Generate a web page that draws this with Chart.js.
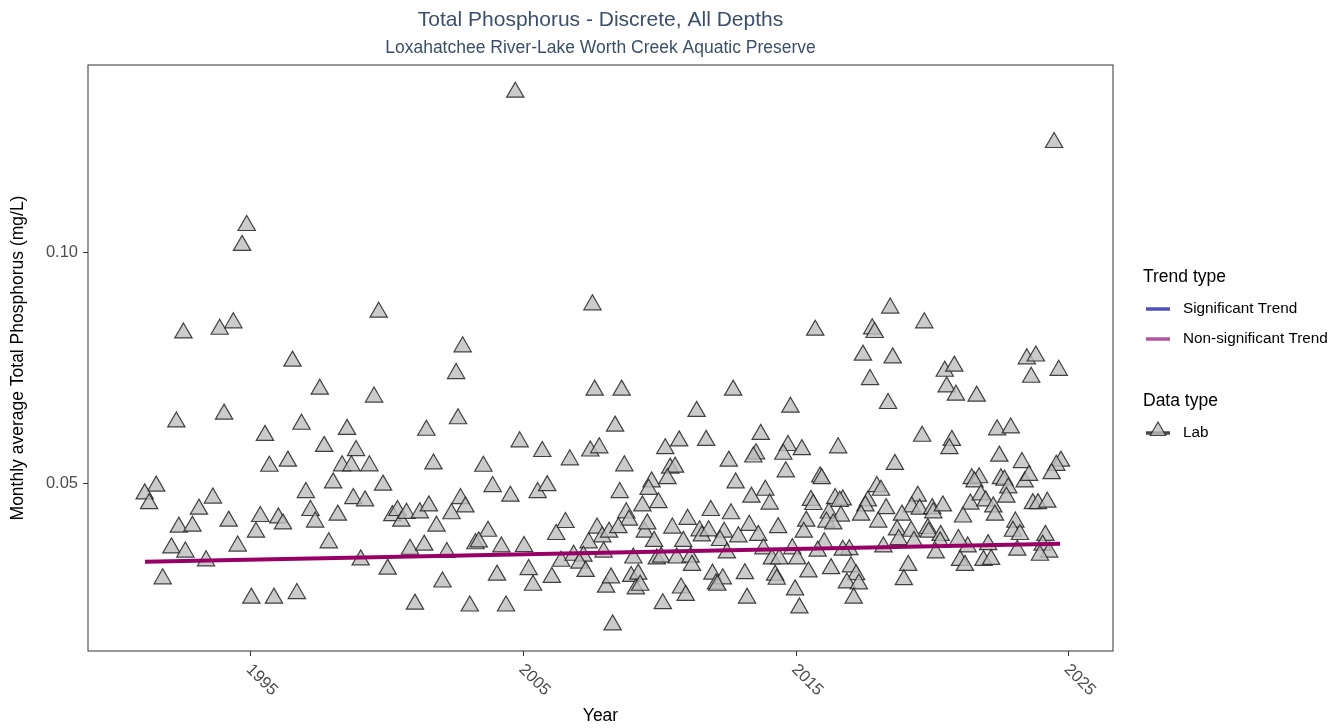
<!DOCTYPE html>
<html>
<head>
<meta charset="utf-8">
<title>Total Phosphorus - Discrete, All Depths</title>
<script src="https://cdn.jsdelivr.net/npm/chart.js@4.4.1/dist/chart.umd.min.js"></script>
<style>
  html, body { margin: 0; padding: 0; background: #ffffff; }
  canvas { display: block; }
</style>
</head>
<body>
<canvas id="tpChart" width="1343" height="728"></canvas>
<script>
// Monthly average total phosphorus (mg/L), lab samples, by decimal year
const sampleYear = [
  1999.69, 1992.53, 1993.86, 1994.36, 1996.53, 1997.53, 1999.52, 1992.27, 1994.02, 1996.86,
  1995.52, 1998.53, 2001.44, 1997.69, 1998.86, 1995.68, 1996.36, 1998.35, 1998.69, 1999.35,
  2001.70, 1991.53, 1991.11, 1991.27, 1993.61, 1997.02, 1998.02, 1999.85, 1993.10, 1992.36,
  1992.86, 1994.19, 1995.35, 1996.01, 1996.18, 1997.19, 1997.36, 1998.19, 1998.76, 1999.19,
  2000.19, 2000.38, 2000.52, 2000.71, 2001.20, 2001.53, 2001.81, 1995.19, 1992.09, 1992.60,
  1993.36, 1994.52, 1997.86, 1999.03, 2000.84, 2001.36, 1991.77, 2000.02, 1995.02, 1995.85,
  1996.69, 2001.02, 1994.85, 1994.68,
  2004.70, 2007.53, 2002.77, 2002.53, 2007.61, 2008.60, 2012.69, 2002.60, 2008.36, 2011.35,
  2004.86, 2005.69, 2006.70, 2007.45, 2007.78, 2010.20, 2010.71, 2011.70, 2013.70, 2013.53,
  2013.43, 2003.53, 2008.70, 2010.38, 2010.56, 2010.28, 2012.53, 2003.87, 2004.52, 2005.52,
  2005.87, 2008.53, 2009.70, 2009.59, 2012.78, 2013.87, 2002.69, 2002.87, 2002.36, 2009.36,
  2009.95, 2013.36, 2014.03, 2008.77, 2008.87, 2011.87, 2012.61, 2006.54, 2006.20, 2003.70,
  2003.24, 2003.36, 2004.19, 2005.02, 2007.70, 2007.89, 2008.14, 2008.48, 2007.39, 2009.45,
  2009.54, 2009.79, 2010.46, 2011.02, 2010.86, 2011.46, 2011.54, 2011.79, 2012.36, 2012.21,
  2012.88, 2013.28, 2013.61, 2014.34, 2002.19, 2006.38, 2006.84, 2007.20, 2007.05, 2007.28,
  2007.94, 2009.03, 2009.89, 2010.05, 2010.62, 2011.13, 2011.18, 2012.46, 2013.80, 2014.11,
  2002.03, 2004.03, 2005.19, 2005.35, 2006.04, 2008.03, 2008.21, 2008.95, 2009.21, 2009.12,
  2009.28, 2010.78, 2010.95, 2011.93, 2012.06, 2012.31, 2012.11, 2013.12, 2014.23, 2014.29,
  2003.03, 2004.36, 2008.27, 2010.11, 2013.20,
  2018.45, 2015.70, 2017.79, 2017.88, 2019.70, 2017.45, 2018.54, 2017.71, 2020.45, 2020.80,
  2020.52, 2020.86, 2021.62, 2023.46, 2023.79, 2023.62, 2024.63, 2014.79, 2018.37, 2022.37,
  2022.87, 2014.70, 2014.53, 2015.21, 2016.54, 2019.62, 2020.71, 2020.62, 2018.62, 2014.62,
  2022.45, 2023.28, 2024.71, 2024.54, 2024.37, 2015.88, 2015.94, 2015.54, 2015.63, 2016.43,
  2016.71, 2016.60, 2017.96, 2018.11, 2017.63, 2017.54, 2018.30, 2017.38, 2015.37, 2016.20,
  2016.64, 2016.11, 2016.36, 2015.28, 2018.01, 2019.46, 2019.24, 2019.53, 2019.99, 2020.03,
  2020.38, 2018.88, 2018.70, 2019.22, 2019.83, 2019.86, 2018.76, 2019.32, 2020.30, 2021.39,
  2021.12, 2021.44, 2021.71, 2021.54, 2021.77, 2021.95, 2022.23, 2022.29, 2022.51, 2022.64,
  2022.78, 2022.71, 2023.38, 2023.54, 2023.68, 2023.87, 2024.21, 2023.04, 2022.95, 2023.21,
  2024.14, 2024.04, 2024.28, 2023.94, 2023.11, 2022.04, 2021.29, 2020.95, 2020.28, 2020.12,
  2021.01, 2021.19, 2021.87, 2022.15, 2019.11, 2018.95, 2018.20, 2016.95, 2016.71, 2016.03,
  2015.79, 2014.86, 2015.04, 2014.38, 2015.45, 2016.28, 2017.01, 2017.20, 2016.86, 2017.30,
  2014.96, 2017.11, 2015.12, 2024.46
];

const monthlyTP = [
  0.0871, 0.0826, 0.0834, 0.0848, 0.0765, 0.0704, 0.0687, 0.0633, 0.0650, 0.0628,
  0.0604, 0.0617, 0.0615, 0.0580, 0.0571, 0.0537, 0.0548, 0.0538, 0.0538, 0.0538,
  0.0542, 0.0494, 0.0477, 0.0456, 0.0468, 0.0480, 0.0501, 0.0496, 0.0444, 0.0405,
  0.0407, 0.0418, 0.0428, 0.0425, 0.0412, 0.0441, 0.0416, 0.0431, 0.0467, 0.0462,
  0.0430, 0.0441, 0.0418, 0.0435, 0.0436, 0.0451, 0.0407, 0.0394, 0.0360, 0.0351,
  0.0332, 0.0364, 0.0371, 0.0334, 0.0357, 0.0366, 0.0293, 0.0314, 0.0251, 0.0251,
  0.0261, 0.0238, 0.1059, 0.1016,
  0.1348, 0.0887, 0.0796, 0.0738, 0.0702, 0.0702, 0.0702, 0.0640, 0.0624, 0.0656,
  0.0590, 0.0569, 0.0551, 0.0570, 0.0577, 0.0575, 0.0592, 0.0593, 0.0606, 0.0564,
  0.0557, 0.0537, 0.0538, 0.0533, 0.0535, 0.0510, 0.0548, 0.0493, 0.0472, 0.0480,
  0.0495, 0.0480, 0.0503, 0.0487, 0.0501, 0.0485, 0.0467, 0.0449, 0.0434, 0.0451,
  0.0458, 0.0470, 0.0455, 0.0436, 0.0420, 0.0441, 0.0434, 0.0415, 0.0389, 0.0396,
  0.0369, 0.0373, 0.0362, 0.0363, 0.0403, 0.0384, 0.0394, 0.0404, 0.0371, 0.0394,
  0.0412, 0.0374, 0.0403, 0.0422, 0.0374, 0.0397, 0.0386, 0.0397, 0.0394, 0.0376,
  0.0384, 0.0409, 0.0387, 0.0404, 0.0350, 0.0331, 0.0344, 0.0342, 0.0327, 0.0309,
  0.0351, 0.0338, 0.0336, 0.0340, 0.0338, 0.0340, 0.0322, 0.0349, 0.0358, 0.0336,
  0.0286, 0.0301, 0.0313, 0.0279, 0.0296, 0.0275, 0.0295, 0.0298, 0.0303, 0.0271,
  0.0279, 0.0273, 0.0257, 0.0303, 0.0282, 0.0293, 0.0279, 0.0304, 0.0301, 0.0292,
  0.0234, 0.0234, 0.0193, 0.0239, 0.0251,
  0.0880, 0.0832, 0.0835, 0.0827, 0.0848, 0.0778, 0.0772, 0.0725, 0.0743, 0.0754,
  0.0709, 0.0691, 0.0689, 0.0770, 0.0776, 0.0730, 0.0745, 0.0665, 0.0673, 0.0616,
  0.0620, 0.0582, 0.0563, 0.0573, 0.0577, 0.0602, 0.0593, 0.0575, 0.0541, 0.0525,
  0.0559, 0.0545, 0.0548, 0.0539, 0.0521, 0.0514, 0.0510, 0.0463, 0.0454, 0.0467,
  0.0464, 0.0461, 0.0493, 0.0485, 0.0462, 0.0451, 0.0445, 0.0431, 0.0418, 0.0436,
  0.0429, 0.0416, 0.0412, 0.0394, 0.0416, 0.0472, 0.0449, 0.0444, 0.0445, 0.0436,
  0.0451, 0.0431, 0.0399, 0.0396, 0.0402, 0.0394, 0.0378, 0.0374, 0.0387, 0.0455,
  0.0427, 0.0510, 0.0512, 0.0503, 0.0475, 0.0462, 0.0449, 0.0431, 0.0510, 0.0507,
  0.0490, 0.0470, 0.0503, 0.0517, 0.0456, 0.0456, 0.0459, 0.0416, 0.0396, 0.0389,
  0.0387, 0.0366, 0.0351, 0.0344, 0.0355, 0.0367, 0.0362, 0.0378, 0.0373, 0.0349,
  0.0333, 0.0322, 0.0333, 0.0335, 0.0322, 0.0291, 0.0362, 0.0356, 0.0355, 0.0371,
  0.0353, 0.0358, 0.0336, 0.0336, 0.0308, 0.0315, 0.0319, 0.0302, 0.0284, 0.0282,
  0.0269, 0.0251, 0.0230, 0.1239
];

// Fitted (non-significant) trend line end points
const trendYear = [1991.12, 2024.68];
const trendTP = [0.0330, 0.0369];

// Axis ticks
const yearTicks = [1995, 2005, 2015, 2025];
const tpTicks = [0.05, 0.10];

// Legend entries
const trendTypes = ['Significant Trend', 'Non-significant Trend'];
const trendColors = ['#4f4fc0', '#b5529d'];
const dataTypes = ['Lab'];

const FONT = '"Liberation Sans", Arial, Helvetica, sans-serif';
Chart.defaults.font.family = FONT;

const observations = sampleYear.map((yr, i) => ({ x: yr, y: monthlyTP[i] }));
const trendLine = trendYear.map((yr, i) => ({ x: yr, y: trendTP[i] }));

// Panel border, rotated year labels and the two-part legend
const decorations = {
  id: 'decorations',
  afterDraw(chart) {
    const { ctx, chartArea: a, scales } = chart;
    ctx.save();
    ctx.strokeStyle = '#333333';
    ctx.lineWidth = 1;
    ctx.strokeRect(a.left, a.top, a.right - a.left, a.bottom - a.top);

    // x tick labels, turned 45 degrees clockwise
    ctx.fillStyle = '#4d4d4d';
    ctx.font = '16.5px ' + FONT;
    ctx.textAlign = 'left';
    ctx.textBaseline = 'middle';
    yearTicks.forEach(v => {
      const x = scales.x.getPixelForValue(v);
      ctx.save();
      ctx.translate(x - 2, a.bottom + 16);
      ctx.rotate(Math.PI / 4);
      ctx.fillText(String(v), 0, 0);
      ctx.restore();
    });

    // legend
    const lx = a.right + 30;
    ctx.fillStyle = '#000000';
    ctx.font = '17.5px ' + FONT;
    ctx.fillText('Trend type', lx, 277);
    ctx.font = '15.3px ' + FONT;
    trendTypes.forEach((t, i) => {
      const y = 309 + i * 30;
      ctx.strokeStyle = trendColors[i];
      ctx.lineWidth = 3.5;
      ctx.beginPath();
      ctx.moveTo(lx + 3, y);
      ctx.lineTo(lx + 27, y);
      ctx.stroke();
      ctx.fillStyle = '#000000';
      ctx.fillText(t, lx + 40, y);
    });
    ctx.font = '17.5px ' + FONT;
    ctx.fillText('Data type', lx, 401);
    ctx.font = '15.3px ' + FONT;
    dataTypes.forEach((t, i) => {
      const y = 431 + i * 30;
      ctx.strokeStyle = 'rgba(40,40,40,0.85)';
      ctx.lineWidth = 3.5;
      ctx.beginPath();
      ctx.moveTo(lx + 3, y + 2);
      ctx.lineTo(lx + 27, y + 2);
      ctx.stroke();
      const cx = lx + 15, cy = y, r = 9;
      ctx.beginPath();
      ctx.moveTo(cx, cy - r);
      ctx.lineTo(cx + r * Math.sqrt(3) / 2, cy + r / 2);
      ctx.lineTo(cx - r * Math.sqrt(3) / 2, cy + r / 2);
      ctx.closePath();
      ctx.fillStyle = 'rgba(190,190,190,0.8)';
      ctx.fill();
      ctx.lineWidth = 1.2;
      ctx.stroke();
      ctx.fillStyle = '#000000';
      ctx.fillText(t, lx + 40, y + 2);
    });
    ctx.restore();
  }
};

new Chart(document.getElementById('tpChart'), {
  type: 'scatter',
  data: {
    datasets: [
      {
        label: 'Non-significant Trend',
        type: 'line',
        data: trendLine,
        borderColor: '#990066',
        borderWidth: 4,
        pointRadius: 0,
        fill: false,
        order: 0
      },
      {
        label: 'Lab',
        data: observations,
        pointStyle: 'triangle',
        pointRadius: 10,
        pointBackgroundColor: 'rgba(190,190,190,0.8)',
        pointBorderColor: 'rgba(35,35,35,0.85)',
        pointBorderWidth: 1.2,
        order: 1
      }
    ]
  },
  options: {
    responsive: false,
    animation: false,
    devicePixelRatio: 1,
    layout: { padding: { left: 0, right: 230, top: 0, bottom: 0 } },
    plugins: {
      legend: { display: false },
      tooltip: { enabled: false },
      title: {
        display: true,
        fullSize: false,
        text: 'Total Phosphorus - Discrete, All Depths',
        color: '#3b4f6b',
        font: { size: 21, weight: 'normal' },
        padding: { top: 7.4, bottom: 0 }
      },
      subtitle: {
        display: true,
        fullSize: false,
        text: 'Loxahatchee River-Lake Worth Creek Aquatic Preserve',
        color: '#3b4f6b',
        font: { size: 17.5, weight: 'normal' },
        padding: { top: 4.9, bottom: 6.5 }
      }
    },
    scales: {
      x: {
        type: 'linear',
        position: 'bottom',
        min: 1989.03,
        max: 2026.62,
        afterBuildTicks: s => { s.ticks = yearTicks.map(v => ({ value: v })); },
        afterFit: s => { s.height = 77; },
        ticks: { display: false },
        grid: { drawOnChartArea: false, drawTicks: true, tickLength: 5, color: '#333333', lineWidth: 1 },
        border: { display: false },
        title: {
          display: true,
          text: 'Year',
          color: '#000000',
          font: { size: 17.5 },
          padding: { top: 0, bottom: 1.5 }
        }
      },
      y: {
        type: 'linear',
        position: 'left',
        min: 0.01364,
        max: 0.1407,
        afterBuildTicks: s => { s.ticks = tpTicks.map(v => ({ value: v })); },
        afterFit: s => { s.width = 88; },
        ticks: {
          color: '#4d4d4d',
          font: { size: 16.5 },
          padding: 5,
          callback: v => v.toFixed(2)
        },
        grid: { drawOnChartArea: false, drawTicks: true, tickLength: 5, color: '#333333', lineWidth: 1 },
        border: { display: false },
        title: {
          display: true,
          text: 'Monthly average Total Phosphorus (mg/L)',
          color: '#000000',
          font: { size: 17.5 },
          padding: { top: 8, bottom: 0 }
        }
      }
    }
  },
  plugins: [decorations]
});
</script>
</body>
</html>
